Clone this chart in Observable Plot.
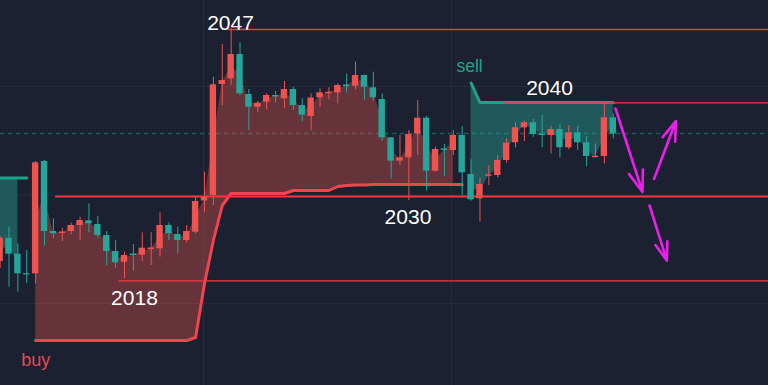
<!DOCTYPE html>
<html><head><meta charset="utf-8">
<script src="https://cdn.jsdelivr.net/npm/d3@7"></script>
<script src="https://cdn.jsdelivr.net/npm/@observablehq/plot@0.6"></script>
<style>
html,body{margin:0;padding:0;background:#1b2130;}
#chart svg{display:block;overflow:hidden;}
</style></head><body><div id="chart"></div>
<script>
// Candles (price units), index 0..69
const opens  = [2023.90,2026.23,2024.63,2022.68,2022.67,2033.90,2026.90,2026.70,2026.90,2027.50,
                2027.97,2027.60,2026.50,2024.90,2023.83,2024.65,2024.53,2025.10,2025.17,2027.50,
                2026.60,2026.00,2026.83,2029.95,2030.50,2041.60,2042.17,2044.60,2040.60,2039.33,
                2039.83,2040.50,2040.17,2041.10,2039.50,2038.40,2040.27,2040.68,2040.77,2041.55,
                2041.43,2042.50,2041.27,2040.10,2036.27,2033.93,2034.27,2036.67,2038.23,2032.93,
                2035.15,2035.00,2036.50,2032.60,2030.17,2032.42,2032.50,2034.00,2035.77,2037.27,
                2037.77,2036.65,2036.50,2037.10,2035.27,2036.77,2035.77,2034.28,2034.40,2038.27];
const highs  = [2026.40,2027.33,2025.67,2025.00,2033.90,2034.00,2028.17,2027.23,2027.73,2028.33,
                2029.67,2028.40,2026.90,2026.00,2024.83,2025.60,2026.77,2026.77,2028.77,2027.73,
                2027.33,2027.50,2030.33,2032.83,2042.33,2045.60,2047.17,2045.77,2041.10,2039.90,
                2040.67,2040.90,2041.90,2041.33,2040.15,2040.67,2041.17,2041.27,2041.67,2042.67,
                2043.83,2042.55,2042.83,2040.67,2036.30,2036.50,2037.00,2040.00,2038.40,2035.33,
                2035.60,2037.00,2037.40,2034.07,2032.27,2033.50,2034.50,2036.17,2037.77,2037.93,
                2038.10,2038.50,2037.40,2037.60,2037.50,2037.40,2036.40,2035.67,2039.73,2038.65];
const lows   = [2023.20,2021.33,2020.83,2021.70,2021.67,2025.43,2026.17,2025.90,2026.57,2026.00,
                2026.77,2026.23,2023.50,2023.17,2022.17,2022.93,2023.90,2023.50,2024.33,2026.00,
                2024.67,2025.77,2026.67,2028.83,2029.50,2039.50,2041.50,2040.50,2037.00,2038.77,
                2039.07,2039.77,2039.17,2039.00,2037.87,2037.00,2039.33,2040.07,2039.67,2040.73,
                2041.07,2040.00,2039.93,2035.93,2032.17,2033.50,2030.00,2034.50,2030.93,2032.83,
                2032.40,2034.50,2030.50,2029.93,2027.83,2031.50,2032.27,2033.73,2035.27,2035.90,
                2036.33,2035.27,2034.67,2034.27,2035.07,2035.00,2033.40,2034.27,2033.67,2036.17];
const closes = [2026.23,2024.63,2022.67,2022.55,2033.77,2026.90,2026.67,2026.85,2027.50,2028.00,
                2027.67,2026.50,2024.90,2023.77,2024.50,2024.50,2025.23,2025.25,2027.50,2026.67,
                2026.00,2026.90,2029.90,2030.30,2041.57,2042.00,2044.60,2040.67,2039.33,2039.73,
                2040.50,2040.35,2041.10,2039.50,2038.53,2040.25,2040.77,2040.83,2041.50,2041.40,
                2042.50,2041.33,2040.27,2036.27,2033.93,2034.27,2036.60,2038.23,2032.93,2035.10,
                2035.00,2036.50,2032.77,2030.07,2031.60,2032.57,2034.00,2035.73,2037.27,2037.77,
                2036.60,2036.50,2037.10,2035.27,2036.77,2035.77,2034.40,2034.43,2038.27,2036.65];
// Trend stop lines (null = not in that trend)
const upStop = [null,null,null,null,
  2016.00,2016.00,2016.00,2016.00,2016.00,2016.00,2016.00,2016.00,2016.00,2016.00,2016.00,2016.00,2016.00,2016.00,2016.00,2016.00,2016.00,2016.00,
  2016.30,2021.70,2026.00,2029.50,
  2030.70,2030.70,2030.70,2030.70,2030.70,2030.70,2030.70,
  2031.00,2031.00,2031.00,2031.00,2031.00,
  2031.40,2031.50,2031.55,2031.55,
  2031.60,2031.60,2031.60,2031.60,2031.60,2031.60,2031.60,2031.60,2031.60,2031.60,2031.60,
  null,null,null,null,null,null,null,null,null,null,null,null,null,null,null,null,null];
const downStop = [2032.25,2032.25,2032.25,2032.25,
  null,null,null,null,null,null,null,null,null,null,null,null,null,null,null,null,null,null,null,null,null,
  null,null,null,null,null,null,null,null,null,null,null,null,null,null,null,null,null,null,null,null,null,
  null,null,null,null,null,null,null,
  2041.75,
  2039.80,2039.80,2039.80,2039.80,2039.80,2039.80,2039.80,2039.80,2039.80,2039.80,2039.80,2039.80,2039.80,2039.80,2039.80,2039.80];
// Horizontal levels and labels
const levelValues = [2047.10, 2039.77, 2030.40, 2021.97];
const levelStarts = [25.6, 56.65, 6.24, 13.38];
const levelLabels = ["2047", "2040", "2030", "2018"];
const levelLabelX = [25.93, 61.83, 45.9, 15.12];
const levelLabelY = [2047.74, 2041.27, 2028.34, 2020.24];
const signalLabels = ["buy", "sell"];
const signalX = [2.38, 51.36];
const signalY = [2013.98, 2043.46];
// Magenta arrows
const arrowX1 = [69.25, 73.59, 73.08];
const arrowY1 = [2039.20, 2032.15, 2029.50];
const arrowX2 = [72.29, 76.04, 75.03];
const arrowY2 = [2030.85, 2037.93, 2024.00];
// Grid
const gridY = [2041.4, 2030.55, 2019.7];
const gridX = [22.89, 50.8];
const dashedLevel = 2036.7;

const X_MIN = 0.045, X_MAX = 86.47;
const RED = "#ef5350", TEAL = "#26a69a";

const rows = opens.map((o, i) => {
  const mid = (o + closes[i]) / 2;
  const up = upStop[i] ?? NaN, dn = downStop[i] ?? NaN;
  const last = i === opens.length - 1;
  const upF = upStop[i] != null && (last || upStop[i + 1] != null);
  const dnF = downStop[i] != null && (last || downStop[i + 1] != null);
  return {i, open: o, high: highs[i], low: lows[i], close: closes[i], mid, up, dn,
    upA: upF ? up : NaN, upB: upF ? mid : NaN, dnA: dnF ? dn : NaN, dnB: dnF ? mid : NaN};
});
const col = d => d.close >= d.open ? RED : TEAL;
const levels = levelValues.map((v, k) => ({v, start: levelStarts[k], end: X_MAX, label: levelLabels[k], lx: levelLabelX[k], ly: levelLabelY[k]}));
const signals = signalLabels.map((s, k) => ({s, x: signalX[k], y: signalY[k]}));
const arrows = arrowX1.map((x, k) => ({x1: x, y1: arrowY1[k], x2: arrowX2[k], y2: arrowY2[k]}));

const chart = Plot.plot({
  width: 768, height: 385,
  marginTop: 0, marginRight: 0, marginBottom: 0, marginLeft: 0,
  style: {background: "#1b2130", overflow: "hidden"},
  x: {domain: [X_MIN, X_MAX], range: [0, 768], axis: null},
  y: {domain: [2011.5, 2050], range: [385, 0], axis: null},
  marks: [
    Plot.ruleY(gridY, {stroke: "#252c3b", strokeWidth: 1}),
    Plot.ruleX(gridX, {stroke: "#252c3b", strokeWidth: 1}),
    Plot.ruleY([dashedLevel], {stroke: "#1e5a54", strokeWidth: 1.4, strokeDasharray: "4.5,3.5"}),
    Plot.areaY(rows, {x: "i", y1: "upA", y2: "upB", fill: RED, fillOpacity: 0.36}),
    Plot.areaY(rows, {x: "i", y1: "dnA", y2: "dnB", fill: TEAL, fillOpacity: 0.42}),
    Plot.line(rows, {x: "i", y: "up", stroke: "#f0444f", strokeWidth: 3}),
    Plot.line(rows, {x: "i", y: "dn", stroke: "#1ba38c", strokeWidth: 3}),
    Plot.ruleY(levels.filter(d => d.label !== "2030"), {y: "v", x1: "start", x2: "end", stroke: "#f7363f", strokeWidth: 1.3}),
    Plot.ruleY(levels.filter(d => d.label === "2030"), {y: "v", x1: "start", x2: "end", stroke: "#f7363f", strokeWidth: 2}),
    Plot.ruleX(rows, {x: "i", y1: "low", y2: "high", stroke: col, strokeWidth: 1}),
    Plot.rect(rows, {x1: d => d.i - 0.36, x2: d => d.i + 0.36, y1: "open", y2: "close", fill: col}),
    Plot.text(levels, {x: "lx", y: "ly", text: "label", fill: "#ffffff", fontSize: 21, fontFamily: "Liberation Sans, Arial, sans-serif", textAnchor: "middle"}),
    Plot.text(signals.filter(d => d.s === "buy"), {x: "x", y: "y", text: "s", fill: "#e8474f", fontSize: 18, fontFamily: "Liberation Sans, Arial, sans-serif", textAnchor: "start"}),
    Plot.text(signals.filter(d => d.s === "sell"), {x: "x", y: "y", text: "s", fill: "#1ba38c", fontSize: 17.5, fontFamily: "Liberation Sans, Arial, sans-serif", textAnchor: "start"}),
    Plot.arrow(arrows, {x1: "x1", y1: "y1", x2: "x2", y2: "y2", stroke: "#ea1fea", strokeWidth: 2.6, headLength: 13, headAngle: 38})
  ]
});
document.getElementById("chart").appendChild(chart);
</script></body></html>
